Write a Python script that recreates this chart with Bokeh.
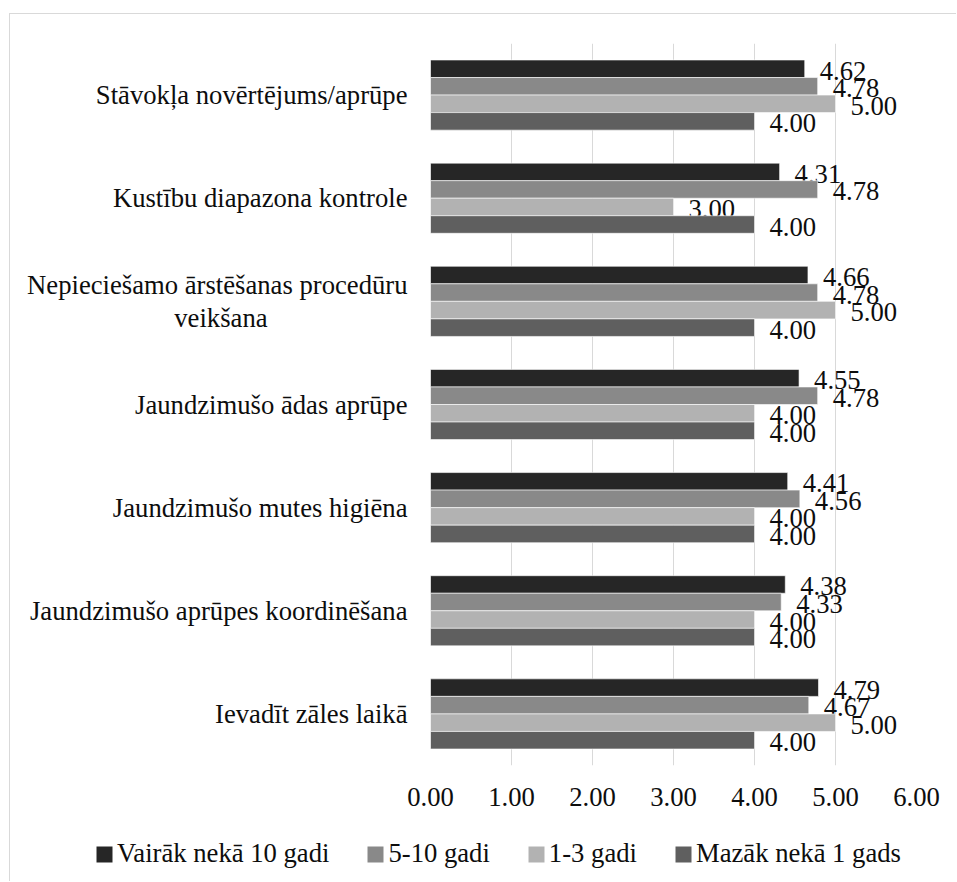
from bokeh.plotting import figure
from bokeh.layouts import column
from bokeh.models import ColumnDataSource, FactorRange, Legend, LegendItem
from bokeh.transform import dodge
from bokeh.core.properties import value
from bokeh.embed import file_html
from bokeh.resources import INLINE

NBSP = "\u00a0"

# Activities, listed top to bottom (the long one wraps onto a centred second line)
categories = [
    "Stāvokļa novērtējums/aprūpe",
    "Kustību diapazona kontrole",
    "Nepieciešamo ārstēšanas procedūru\nveikšana" + NBSP * 21,
    "Jaundzimušo ādas aprūpe",
    "Jaundzimušo mutes higiēna",
    "Jaundzimušo aprūpes koordinēšana",
    "Ievadīt zāles laikā",
]

# Average scores by length of work experience
more_than_10 = [4.62, 4.31, 4.66, 4.55, 4.41, 4.38, 4.79]
from_5_to_10 = [4.78, 4.78, 4.78, 4.78, 4.56, 4.33, 4.67]
from_1_to_3 = [5.00, 3.00, 5.00, 4.00, 4.00, 4.00, 5.00]
less_than_1 = [4.00, 4.00, 4.00, 4.00, 4.00, 4.00, 4.00]

series_names = ["Vairāk nekā 10 gadi", "5-10 gadi", "1-3 gadi", "Mazāk nekā 1 gads"]
series_values = [more_than_10, from_5_to_10, from_1_to_3, less_than_1]
series_colors = ["#262626", "#898989", "#b2b2b2", "#5f5f5f"]
offsets = [0.255, 0.085, -0.085, -0.255]

x_ticks = [0, 1, 2, 3, 4, 5, 6]

FONT = "Liberation Serif"
FS = "26.67px"
TEXT_COLOR = "#0d0d0d"

data = {"cat": categories}
for i, vals in enumerate(series_values):
    data[f"v{i}"] = vals
    data[f"t{i}"] = [f"{v:.2f}" for v in vals]
source = ColumnDataSource(data)

# Main bar chart
p = figure(
    width=946, height=811,
    y_range=FactorRange(factors=categories[::-1], range_padding=0),
    x_range=(0, 6),
    output_backend="svg", toolbar_location=None,
    min_border_left=420, min_border_right=40,
    min_border_top=29, min_border_bottom=60,
)
p.frame_align = False
p.outline_line_color = None
p.background_fill_color = "white"
p.border_fill_color = "white"

for i, name in enumerate(series_names):
    p.hbar(y=dodge("cat", offsets[i], range=p.y_range), right=f"v{i}", left=0,
           height=0.17, source=source, fill_color=series_colors[i],
           line_color="white", line_width=0.6)
    p.text(x=f"v{i}", y=dodge("cat", offsets[i], range=p.y_range), text=f"t{i}",
           source=source, x_offset=15, y_offset=2,
           text_font=value(FONT), text_font_size=FS, text_color=TEXT_COLOR,
           text_align="left", text_baseline="middle")

p.xaxis.ticker = x_ticks
p.xaxis.major_label_overrides = {t: f"{t:.2f}" for t in x_ticks}
for ax in (p.xaxis[0], p.yaxis[0]):
    ax.axis_line_color = None
    ax.major_tick_line_color = None
    ax.minor_tick_line_color = None
    ax.major_tick_out = 0
    ax.major_tick_in = 0
    ax.major_label_text_font = FONT
    ax.major_label_text_font_size = FS
    ax.major_label_text_color = TEXT_COLOR
p.xaxis.major_label_standoff = 22
p.yaxis.major_label_standoff = 23
p.yaxis.major_label_text_line_height = 1.12

p.xgrid.grid_line_color = "#d9d9d9"
p.xgrid.grid_line_width = 1
p.ygrid.grid_line_color = None

# Legend strip under the chart; its swatch renderers sit outside the visible range
lg = figure(width=946, height=56, x_range=(0, 1), y_range=(0, 1),
            x_axis_type=None, y_axis_type=None,
            output_backend="svg", toolbar_location=None,
            min_border=0)
lg.frame_align = False
lg.outline_line_color = None
lg.grid.visible = False
items = []
for i, name in enumerate(series_names):
    r = lg.hbar(y=[-10], right=[-10], left=-11, height=0.5,
                fill_color=series_colors[i], line_color=None)
    items.append(LegendItem(label=name, renderers=[r]))
legend = Legend(items=items, orientation="horizontal", location=(84, 12),
                glyph_width=20, glyph_height=20, label_standoff=3, spacing=36,
                padding=0, margin=0, border_line_color=None,
                background_fill_alpha=0,
                label_text_font=FONT, label_text_font_size=FS,
                label_text_color=TEXT_COLOR)
lg.add_layout(legend, "center")

# light frame around the whole chart
page = column(p, lg, spacing=0)
page.margin = (13, 0, 0, 9)
page.styles = {"border-top": "1.5px solid #d9d9d9", "border-left": "1.5px solid #d9d9d9"}

open("out.html", "w").write(file_html(page, INLINE))
